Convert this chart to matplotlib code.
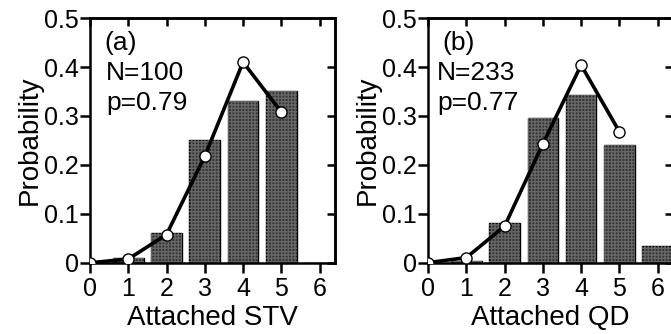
import matplotlib
matplotlib.use('Agg')
import matplotlib.pyplot as plt

plt.rcParams['font.family'] = ['Liberation Sans', 'DejaVu Sans']

counts = [0, 1, 2, 3, 4, 5, 6]

# panel (a): attached STV
stv_obs = [0.0, 0.01, 0.062, 0.25, 0.33, 0.35, 0.0]
stv_fit = [0.0004, 0.008, 0.058, 0.218, 0.41, 0.308]

# panel (b): attached QD
qd_obs = [0.0, 0.004, 0.082, 0.296, 0.343, 0.24, 0.034]
qd_fit = [0.0006, 0.011, 0.075, 0.243, 0.404, 0.268]

yticks = [0, 0.1, 0.2, 0.3, 0.4, 0.5]
ytick_labels = ['0', '0.1', '0.2', '0.3', '0.4', '0.5']

panels = [
    dict(obs=stv_obs, fit=stv_fit, tag='(a)', n='N=100', p='p=0.79',
         xlabel='Attached STV', left=0.1341, tagx=0.38, nx=0.42),
    dict(obs=qd_obs, fit=qd_fit, tag='(b)', n='N=233', p='p=0.77',
         xlabel='Attached QD', left=0.6379, tagx=0.37, nx=0.23),
]

fig = plt.figure(figsize=(6.71, 3.34), dpi=100)

for pn in panels:
    ax = fig.add_axes([pn['left'], 0.2126, 0.365, 0.7335])
    ax.bar(counts, pn['obs'], width=0.8, color='#333333', edgecolor='black',
           linewidth=1.0, zorder=2)
    ax.bar(counts, pn['obs'], width=0.8, fill=False, hatch='+++++',
           edgecolor='#666666', linewidth=0, zorder=2)
    ax.plot(counts[:len(pn['fit'])], pn['fit'], color='black', lw=2.6,
            marker='o', ms=8, mfc='white', mec='black', mew=1.0, zorder=3)

    ax.set_xlim(0, 6.4)
    ax.set_ylim(0, 0.5)
    ax.set_xticks(counts)
    ax.set_yticks(yticks)
    ax.set_yticklabels(ytick_labels)
    ax.tick_params(direction='out', length=7, width=1.8, labelsize=18)
    ax.tick_params(axis='x', pad=3)
    ax.tick_params(axis='y', pad=1)
    for s in ax.spines.values():
        s.set_linewidth(1.8)

    top = ax.secondary_xaxis('top')
    top.set_xticks(counts)
    top.tick_params(direction='in', length=6, width=1.8, labeltop=False)
    top.spines['top'].set_linewidth(1.8)
    right = ax.secondary_yaxis('right')
    right.set_yticks(yticks)
    right.tick_params(direction='in', length=6, width=1.8, labelright=False)
    right.spines['right'].set_linewidth(1.8)

    ax.set_xlabel(pn['xlabel'], fontsize=20, labelpad=3)
    ax.set_ylabel('Probability', fontsize=20, labelpad=1)

    ax.text(pn['tagx'], 0.45, pn['tag'], fontsize=19, va='center', ha='left')
    ax.text(pn['nx'], 0.388, pn['n'], fontsize=19, va='center', ha='left')
    ax.text(pn['nx'], 0.327, pn['p'], fontsize=19, va='center', ha='left')

fig.savefig('out.png', dpi=100)
